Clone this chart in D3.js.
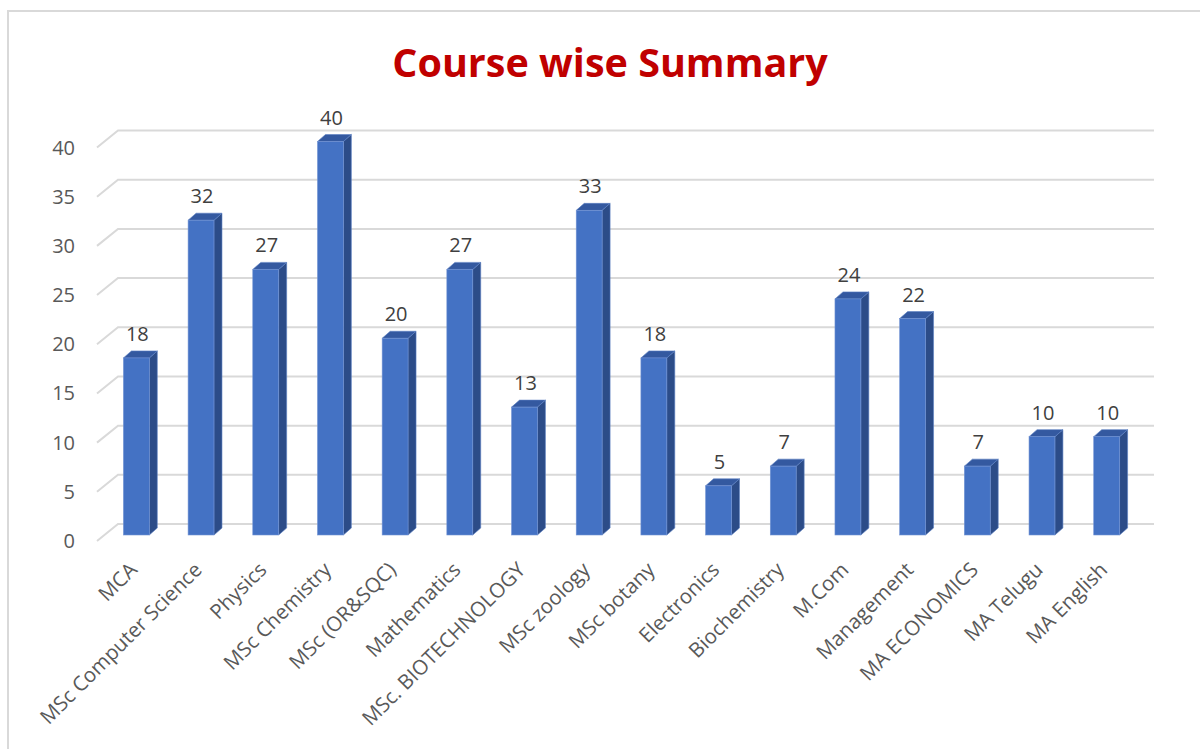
<!DOCTYPE html>
<html>
<head>
<meta charset="utf-8">
<script src="https://cdn.jsdelivr.net/npm/d3@7"></script>
<style>
  body { margin: 0; background: #fff; }
  text { font-family: "Open Sans", sans-serif; }
</style>
</head>
<body>
<svg id="chart" width="1200" height="749"></svg>
<script>
var courses = ["MCA", "MSc Computer Science", "Physics", "MSc Chemistry", "MSc (OR&SQC)",
               "Mathematics", "MSc. BIOTECHNOLOGY", "MSc zoology", "MSc botany", "Electronics",
               "Biochemistry", "M.Com", "Management", "MA ECONOMICS", "MA Telugu", "MA English"];
var students = [18, 32, 27, 40, 20, 27, 13, 33, 18, 5, 7, 24, 22, 7, 10, 10];
var yTicks = [0, 5, 10, 15, 20, 25, 30, 35, 40];

var svg = d3.select("#chart");

// depth offsets of the fake 3d
var depthX = 8, depthY = 7;     // bar side / top
var wallX = 21, wallY = 17;     // front edge -> back wall

var x = d3.scaleBand()
  .domain(courses)
  .range([104, 1139])
  .paddingInner(0.6)
  .paddingOuter(0.3);

// y for the front face of the bars
var y = d3.scaleLinear()
  .domain([0, 40])
  .range([535, 141.5]);

// chart border (only top and left are visible)
svg.append("path")
  .attr("d", "M8,749 L8,11 L1200,11")
  .attr("fill", "none")
  .attr("stroke", "#d9d9d9")
  .attr("stroke-width", 2);

// title
svg.append("text")
  .attr("x", 610)
  .attr("y", 77)
  .attr("text-anchor", "middle")
  .style("font-size", "39.5px")
  .style("font-weight", "bold")
  .style("fill", "#c00000")
  .text("Course wise Summary");

// gridlines: back wall + floor diagonal
var grid = svg.append("g");
yTicks.forEach(function(v) {
  var yb = y(v) - 11;
  grid.append("path")
    .attr("d", "M" + (118 - wallX) + "," + (yb + wallY) + " L118," + yb + " L1154," + yb)
    .attr("fill", "none")
    .attr("stroke", "#d9d9d9")
    .attr("stroke-width", 2);
});

// y tick labels
svg.append("g").selectAll("text")
  .data(yTicks)
  .enter().append("text")
  .attr("x", 75)
  .attr("y", function(d) { return y(d) + 6; })
  .attr("dy", "0.35em")
  .attr("text-anchor", "end")
  .style("font-size", "20px")
  .style("fill", "#595959")
  .text(function(d) { return d; });

// bars
var bar = svg.append("g").selectAll("g")
  .data(students)
  .enter().append("g");

bar.append("path")   // side
  .attr("d", function(d, i) {
    var x1 = x(courses[i]) + x.bandwidth(), yt = y(d), yb = y(0);
    return "M" + x1 + "," + yt + " L" + (x1 + depthX) + "," + (yt - depthY) +
      " L" + (x1 + depthX) + "," + (yb - depthY) + " L" + x1 + "," + yb + "Z";
  })
  .attr("fill", "#2c4c88")
  .attr("stroke", "#5b7fc2")
  .attr("stroke-width", 0.6);

bar.append("path")   // top
  .attr("d", function(d, i) {
    var x0 = x(courses[i]), x1 = x0 + x.bandwidth(), yt = y(d);
    return "M" + x0 + "," + yt + " L" + x1 + "," + yt + " L" + (x1 + depthX) + "," + (yt - depthY) +
      " L" + (x0 + depthX) + "," + (yt - depthY) + "Z";
  })
  .attr("fill", "#3459a0")
  .attr("stroke", "#5b7fc2")
  .attr("stroke-width", 0.6);

bar.append("rect")   // front
  .attr("x", function(d, i) { return x(courses[i]); })
  .attr("y", function(d) { return y(d); })
  .attr("width", x.bandwidth())
  .attr("height", function(d) { return y(0) - y(d); })
  .attr("fill", "#4472c4")
  .attr("stroke", "#7394d4")
  .attr("stroke-width", 0.6);

// value labels
bar.append("text")
  .attr("x", function(d, i) { return x(courses[i]) + x.bandwidth() / 2 + 1; })
  .attr("y", function(d) { return y(d) - 17; })
  .attr("text-anchor", "middle")
  .style("font-size", "20px")
  .style("fill", "#404040")
  .text(function(d) { return d; });

// category labels, rotated
svg.append("g").selectAll("text")
  .data(courses)
  .enter().append("text")
  .attr("transform", function(d) {
    return "translate(" + (x(d) + x.bandwidth() / 2 - 3) + ",566) rotate(-45)";
  })
  .attr("dy", "0.35em")
  .attr("text-anchor", "end")
  .style("font-size", "20.5px")
  .style("fill", "#595959")
  .text(function(d) { return d; });
</script>
</body>
</html>
